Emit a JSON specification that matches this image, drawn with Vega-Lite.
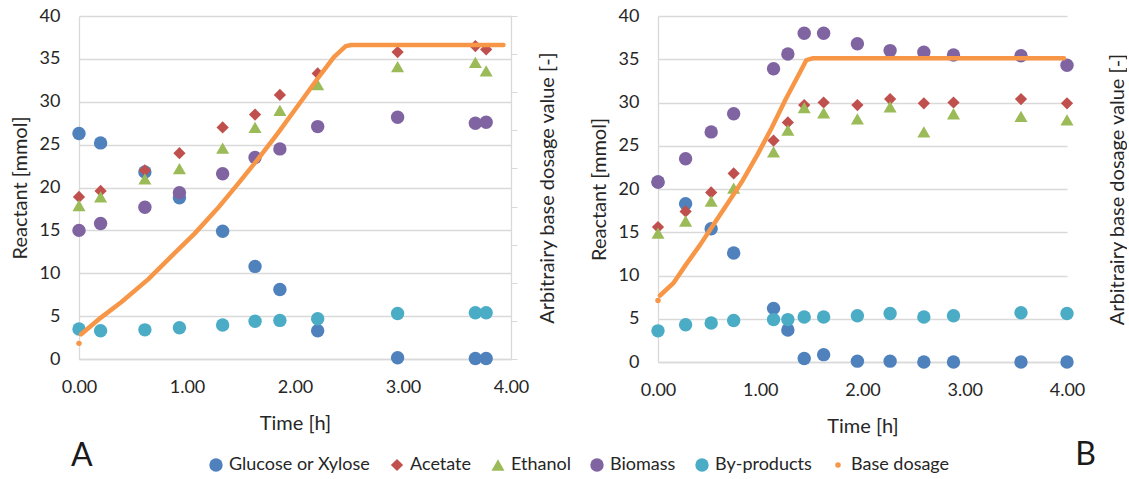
{
  "$schema": "https://vega.github.io/schema/vega-lite/v6.json",
  "padding": {"left": 10, "top": 7, "right": 0, "bottom": 0},
  "background": "white",
  "config": {
    "font": "Lato",
    "view": {"stroke": null},
    "axis": {
      "labelFont": "Lato", "titleFont": "Lato",
      "labelFontSize": 18, "titleFontSize": 20, "titleFontWeight": "normal",
      "labelColor": "#262626", "titleColor": "#262626",
      "domainColor": "#D9D9D9", "domainWidth": 1.3,
      "gridColor": "#D9D9D9", "gridWidth": 1.3, "tickColor": "#D9D9D9",
      "labelFlush": false
    },
    "title": {"font": "Lato", "fontSize": 32, "fontWeight": "normal", "color": "#1a1a1a"}
  },
  "datasets": {
    "reactants": [
      {"panel": "A", "series": "Glucose or Xylose", "time": 0, "value": 26.3},
      {"panel": "A", "series": "Glucose or Xylose", "time": 0.2, "value": 25.2},
      {"panel": "A", "series": "Glucose or Xylose", "time": 0.61, "value": 21.8},
      {"panel": "A", "series": "Glucose or Xylose", "time": 0.93, "value": 18.8},
      {"panel": "A", "series": "Glucose or Xylose", "time": 1.33, "value": 14.9},
      {"panel": "A", "series": "Glucose or Xylose", "time": 1.63, "value": 10.8},
      {"panel": "A", "series": "Glucose or Xylose", "time": 1.86, "value": 8.1},
      {"panel": "A", "series": "Glucose or Xylose", "time": 2.21, "value": 3.3},
      {"panel": "A", "series": "Glucose or Xylose", "time": 2.95, "value": 0.15},
      {"panel": "A", "series": "Glucose or Xylose", "time": 3.67, "value": 0.05},
      {"panel": "A", "series": "Glucose or Xylose", "time": 3.77, "value": 0.05},
      {"panel": "A", "series": "Acetate", "time": 0, "value": 18.9},
      {"panel": "A", "series": "Acetate", "time": 0.2, "value": 19.6},
      {"panel": "A", "series": "Acetate", "time": 0.61, "value": 22.0},
      {"panel": "A", "series": "Acetate", "time": 0.93, "value": 24.0},
      {"panel": "A", "series": "Acetate", "time": 1.33, "value": 27.0},
      {"panel": "A", "series": "Acetate", "time": 1.63, "value": 28.5},
      {"panel": "A", "series": "Acetate", "time": 1.86, "value": 30.8},
      {"panel": "A", "series": "Acetate", "time": 2.21, "value": 33.3},
      {"panel": "A", "series": "Acetate", "time": 2.95, "value": 35.8},
      {"panel": "A", "series": "Acetate", "time": 3.67, "value": 36.5},
      {"panel": "A", "series": "Acetate", "time": 3.77, "value": 36.1},
      {"panel": "A", "series": "Ethanol", "time": 0, "value": 17.9},
      {"panel": "A", "series": "Ethanol", "time": 0.2, "value": 18.9},
      {"panel": "A", "series": "Ethanol", "time": 0.61, "value": 21.0},
      {"panel": "A", "series": "Ethanol", "time": 0.93, "value": 22.2},
      {"panel": "A", "series": "Ethanol", "time": 1.33, "value": 24.6},
      {"panel": "A", "series": "Ethanol", "time": 1.63, "value": 27.0},
      {"panel": "A", "series": "Ethanol", "time": 1.86, "value": 29.0},
      {"panel": "A", "series": "Ethanol", "time": 2.21, "value": 32.0},
      {"panel": "A", "series": "Ethanol", "time": 2.95, "value": 34.1},
      {"panel": "A", "series": "Ethanol", "time": 3.67, "value": 34.6},
      {"panel": "A", "series": "Ethanol", "time": 3.77, "value": 33.6},
      {"panel": "A", "series": "Biomass", "time": 0, "value": 15.0},
      {"panel": "A", "series": "Biomass", "time": 0.2, "value": 15.8},
      {"panel": "A", "series": "Biomass", "time": 0.61, "value": 17.7},
      {"panel": "A", "series": "Biomass", "time": 0.93, "value": 19.4},
      {"panel": "A", "series": "Biomass", "time": 1.33, "value": 21.6},
      {"panel": "A", "series": "Biomass", "time": 1.63, "value": 23.5},
      {"panel": "A", "series": "Biomass", "time": 1.86, "value": 24.5},
      {"panel": "A", "series": "Biomass", "time": 2.21, "value": 27.1},
      {"panel": "A", "series": "Biomass", "time": 2.95, "value": 28.2},
      {"panel": "A", "series": "Biomass", "time": 3.67, "value": 27.5},
      {"panel": "A", "series": "Biomass", "time": 3.77, "value": 27.6},
      {"panel": "A", "series": "By-products", "time": 0, "value": 3.5},
      {"panel": "A", "series": "By-products", "time": 0.2, "value": 3.3},
      {"panel": "A", "series": "By-products", "time": 0.61, "value": 3.4},
      {"panel": "A", "series": "By-products", "time": 0.93, "value": 3.65},
      {"panel": "A", "series": "By-products", "time": 1.33, "value": 3.96},
      {"panel": "A", "series": "By-products", "time": 1.63, "value": 4.4},
      {"panel": "A", "series": "By-products", "time": 1.86, "value": 4.5},
      {"panel": "A", "series": "By-products", "time": 2.21, "value": 4.7},
      {"panel": "A", "series": "By-products", "time": 2.95, "value": 5.3},
      {"panel": "A", "series": "By-products", "time": 3.67, "value": 5.4},
      {"panel": "A", "series": "By-products", "time": 3.77, "value": 5.4},
      {"panel": "B", "series": "Glucose or Xylose", "time": 0, "value": 20.8},
      {"panel": "B", "series": "Glucose or Xylose", "time": 0.27, "value": 18.3},
      {"panel": "B", "series": "Glucose or Xylose", "time": 0.52, "value": 15.4},
      {"panel": "B", "series": "Glucose or Xylose", "time": 0.74, "value": 12.6},
      {"panel": "B", "series": "Glucose or Xylose", "time": 1.13, "value": 6.2},
      {"panel": "B", "series": "Glucose or Xylose", "time": 1.27, "value": 3.7},
      {"panel": "B", "series": "Glucose or Xylose", "time": 1.43, "value": 0.4},
      {"panel": "B", "series": "Glucose or Xylose", "time": 1.62, "value": 0.85},
      {"panel": "B", "series": "Glucose or Xylose", "time": 1.95, "value": 0.1},
      {"panel": "B", "series": "Glucose or Xylose", "time": 2.27, "value": 0.1},
      {"panel": "B", "series": "Glucose or Xylose", "time": 2.6, "value": 0.0},
      {"panel": "B", "series": "Glucose or Xylose", "time": 2.89, "value": 0.0},
      {"panel": "B", "series": "Glucose or Xylose", "time": 3.55, "value": 0.0},
      {"panel": "B", "series": "Glucose or Xylose", "time": 4.0, "value": 0.0},
      {"panel": "B", "series": "Acetate", "time": 0, "value": 15.6},
      {"panel": "B", "series": "Acetate", "time": 0.27, "value": 17.4},
      {"panel": "B", "series": "Acetate", "time": 0.52, "value": 19.6},
      {"panel": "B", "series": "Acetate", "time": 0.74, "value": 21.8},
      {"panel": "B", "series": "Acetate", "time": 1.13, "value": 25.6},
      {"panel": "B", "series": "Acetate", "time": 1.27, "value": 27.7},
      {"panel": "B", "series": "Acetate", "time": 1.43, "value": 29.7},
      {"panel": "B", "series": "Acetate", "time": 1.62, "value": 30.0},
      {"panel": "B", "series": "Acetate", "time": 1.95, "value": 29.7},
      {"panel": "B", "series": "Acetate", "time": 2.27, "value": 30.4},
      {"panel": "B", "series": "Acetate", "time": 2.6, "value": 29.9},
      {"panel": "B", "series": "Acetate", "time": 2.89, "value": 30.0},
      {"panel": "B", "series": "Acetate", "time": 3.55, "value": 30.4},
      {"panel": "B", "series": "Acetate", "time": 4.0, "value": 29.9},
      {"panel": "B", "series": "Ethanol", "time": 0, "value": 14.9},
      {"panel": "B", "series": "Ethanol", "time": 0.27, "value": 16.3},
      {"panel": "B", "series": "Ethanol", "time": 0.52, "value": 18.6},
      {"panel": "B", "series": "Ethanol", "time": 0.74, "value": 20.1},
      {"panel": "B", "series": "Ethanol", "time": 1.13, "value": 24.3},
      {"panel": "B", "series": "Ethanol", "time": 1.27, "value": 26.8},
      {"panel": "B", "series": "Ethanol", "time": 1.43, "value": 29.4},
      {"panel": "B", "series": "Ethanol", "time": 1.62, "value": 28.8},
      {"panel": "B", "series": "Ethanol", "time": 1.95, "value": 28.1},
      {"panel": "B", "series": "Ethanol", "time": 2.27, "value": 29.5},
      {"panel": "B", "series": "Ethanol", "time": 2.6, "value": 26.6},
      {"panel": "B", "series": "Ethanol", "time": 2.89, "value": 28.7},
      {"panel": "B", "series": "Ethanol", "time": 3.55, "value": 28.4},
      {"panel": "B", "series": "Ethanol", "time": 4.0, "value": 28.0},
      {"panel": "B", "series": "Biomass", "time": 0, "value": 20.8},
      {"panel": "B", "series": "Biomass", "time": 0.27, "value": 23.5},
      {"panel": "B", "series": "Biomass", "time": 0.52, "value": 26.6},
      {"panel": "B", "series": "Biomass", "time": 0.74, "value": 28.7},
      {"panel": "B", "series": "Biomass", "time": 1.13, "value": 33.9},
      {"panel": "B", "series": "Biomass", "time": 1.27, "value": 35.6},
      {"panel": "B", "series": "Biomass", "time": 1.43, "value": 38.0},
      {"panel": "B", "series": "Biomass", "time": 1.62, "value": 38.0},
      {"panel": "B", "series": "Biomass", "time": 1.95, "value": 36.8},
      {"panel": "B", "series": "Biomass", "time": 2.27, "value": 36.0},
      {"panel": "B", "series": "Biomass", "time": 2.6, "value": 35.8},
      {"panel": "B", "series": "Biomass", "time": 2.89, "value": 35.5},
      {"panel": "B", "series": "Biomass", "time": 3.55, "value": 35.4},
      {"panel": "B", "series": "Biomass", "time": 4.0, "value": 34.3},
      {"panel": "B", "series": "By-products", "time": 0, "value": 3.6},
      {"panel": "B", "series": "By-products", "time": 0.27, "value": 4.3},
      {"panel": "B", "series": "By-products", "time": 0.52, "value": 4.5},
      {"panel": "B", "series": "By-products", "time": 0.74, "value": 4.8},
      {"panel": "B", "series": "By-products", "time": 1.13, "value": 4.9},
      {"panel": "B", "series": "By-products", "time": 1.27, "value": 4.9},
      {"panel": "B", "series": "By-products", "time": 1.43, "value": 5.2},
      {"panel": "B", "series": "By-products", "time": 1.62, "value": 5.2},
      {"panel": "B", "series": "By-products", "time": 1.95, "value": 5.35},
      {"panel": "B", "series": "By-products", "time": 2.27, "value": 5.6},
      {"panel": "B", "series": "By-products", "time": 2.6, "value": 5.2},
      {"panel": "B", "series": "By-products", "time": 2.89, "value": 5.35},
      {"panel": "B", "series": "By-products", "time": 3.55, "value": 5.7},
      {"panel": "B", "series": "By-products", "time": 4.0, "value": 5.6}
    ],
    "dosage": [
      {"panel": "A", "series": "Base dosage", "kind": "start", "time": 0, "value": 0.41},
      {"panel": "A", "series": "Base dosage", "kind": "curve", "time": 0.02, "value": 0.65},
      {"panel": "A", "series": "Base dosage", "kind": "curve", "time": 0.2, "value": 1.08},
      {"panel": "A", "series": "Base dosage", "kind": "curve", "time": 0.39, "value": 1.49},
      {"panel": "A", "series": "Base dosage", "kind": "curve", "time": 0.64, "value": 2.09},
      {"panel": "A", "series": "Base dosage", "kind": "curve", "time": 0.85, "value": 2.68},
      {"panel": "A", "series": "Base dosage", "kind": "curve", "time": 1.07, "value": 3.29},
      {"panel": "A", "series": "Base dosage", "kind": "curve", "time": 1.28, "value": 3.94},
      {"panel": "A", "series": "Base dosage", "kind": "curve", "time": 1.47, "value": 4.59},
      {"panel": "A", "series": "Base dosage", "kind": "curve", "time": 1.65, "value": 5.22},
      {"panel": "A", "series": "Base dosage", "kind": "curve", "time": 1.84, "value": 5.92},
      {"panel": "A", "series": "Base dosage", "kind": "curve", "time": 2.02, "value": 6.62},
      {"panel": "A", "series": "Base dosage", "kind": "curve", "time": 2.21, "value": 7.36},
      {"panel": "A", "series": "Base dosage", "kind": "curve", "time": 2.36, "value": 7.92},
      {"panel": "A", "series": "Base dosage", "kind": "curve", "time": 2.47, "value": 8.21},
      {"panel": "A", "series": "Base dosage", "kind": "curve", "time": 2.52, "value": 8.24},
      {"panel": "A", "series": "Base dosage", "kind": "curve", "time": 3.93, "value": 8.24},
      {"panel": "B", "series": "Base dosage", "kind": "start", "time": 0, "value": 1.6},
      {"panel": "B", "series": "Base dosage", "kind": "curve", "time": 0.02, "value": 1.73},
      {"panel": "B", "series": "Base dosage", "kind": "curve", "time": 0.15, "value": 2.05},
      {"panel": "B", "series": "Base dosage", "kind": "curve", "time": 0.27, "value": 2.52},
      {"panel": "B", "series": "Base dosage", "kind": "curve", "time": 0.41, "value": 3.04},
      {"panel": "B", "series": "Base dosage", "kind": "curve", "time": 0.55, "value": 3.6},
      {"panel": "B", "series": "Base dosage", "kind": "curve", "time": 0.69, "value": 4.16},
      {"panel": "B", "series": "Base dosage", "kind": "curve", "time": 0.83, "value": 4.73},
      {"panel": "B", "series": "Base dosage", "kind": "curve", "time": 0.97, "value": 5.38},
      {"panel": "B", "series": "Base dosage", "kind": "curve", "time": 1.11, "value": 6.08},
      {"panel": "B", "series": "Base dosage", "kind": "curve", "time": 1.25, "value": 6.84},
      {"panel": "B", "series": "Base dosage", "kind": "curve", "time": 1.38, "value": 7.49},
      {"panel": "B", "series": "Base dosage", "kind": "curve", "time": 1.45, "value": 7.85},
      {"panel": "B", "series": "Base dosage", "kind": "curve", "time": 1.51, "value": 7.9},
      {"panel": "B", "series": "Base dosage", "kind": "curve", "time": 3.97, "value": 7.9}
    ]
  },
  "hconcat": [
    {
      "width": 432,
      "height": 343,
      "title": {"text": "A", "orient": "bottom", "anchor": "start", "frame": "group", "dx": -8, "offset": 8},
      "layer": [
        {
          "data": {"name": "reactants"},
          "transform": [{"filter": "datum.panel === 'A'"}],
          "mark": {"type": "point", "filled": true, "opacity": 1},
          "encoding": {
            "x": {"field": "time", "type": "quantitative", "scale": {"domain": [0, 4], "nice": false},
                  "axis": {"title": "Time [h]", "values": [0, 1, 2, 3, 4], "format": ".2f", "grid": false, "ticks": false, "tickSize": 0, "labelPadding": 19, "titlePadding": 17}},
            "y": {"field": "value", "type": "quantitative", "scale": {"domain": [0, 40], "nice": false},
                  "axis": {"orient": "left", "title": "Reactant [mmol]", "values": [0, 5, 10, 15, 20, 25, 30, 35, 40], "format": "d", "grid": true, "ticks": false, "tickSize": 0, "labelPadding": 19, "titlePadding": 9}},
            "color": {"field": "series", "type": "nominal",
                      "scale": {"domain": ["Glucose or Xylose", "Acetate", "Ethanol", "Biomass", "By-products", "Base dosage"], "range": ["#4F81BD", "#C0504D", "#9BBB59", "#8064A2", "#4BACC6", "#F79646"]},
                      "legend": {"title": null, "orient": "none", "legendX": 128, "legendY": 440, "direction": "horizontal", "columns": 6, "labelFont": "Lato", "labelFontSize": 18, "labelColor": "#262626", "columnPadding": 17, "labelOffset": 4, "symbolStrokeWidth": 0, "padding": 0}},
            "shape": {"field": "series", "type": "nominal",
                      "scale": {"domain": ["Glucose or Xylose", "Acetate", "Ethanol", "Biomass", "By-products", "Base dosage"], "range": ["circle", "diamond", "triangle-up", "circle", "circle", "circle"]},
                      "legend": {"title": null, "orient": "none", "legendX": 128, "legendY": 440, "direction": "horizontal", "columns": 6, "labelFont": "Lato", "labelFontSize": 18, "labelColor": "#262626", "columnPadding": 17, "labelOffset": 4, "symbolStrokeWidth": 0, "padding": 0}},
            "size": {"field": "series", "type": "nominal",
                     "scale": {"type": "ordinal", "domain": ["Glucose or Xylose", "Acetate", "Ethanol", "Biomass", "By-products", "Base dosage"], "range": [180, 150, 170, 180, 180, 30]},
                     "legend": {"title": null, "orient": "none", "legendX": 128, "legendY": 440, "direction": "horizontal", "columns": 6, "labelFont": "Lato", "labelFontSize": 18, "labelColor": "#262626", "columnPadding": 17, "labelOffset": 4, "symbolStrokeWidth": 0, "padding": 0}}
          }
        },
        {
          "data": {"name": "dosage"},
          "transform": [{"filter": "datum.panel === 'A'"}],
          "layer": [
            {
              "transform": [{"filter": "datum.kind === 'curve'"}],
              "mark": {"type": "line", "color": "#F79646", "strokeWidth": 4.5, "strokeCap": "round", "strokeJoin": "round"},
              "encoding": {
                "x": {"field": "time", "type": "quantitative", "scale": {"domain": [0, 4], "nice": false},
                      "axis": {"title": "Time [h]", "values": [0, 1, 2, 3, 4], "format": ".2f", "grid": false, "ticks": false, "tickSize": 0, "labelPadding": 19, "titlePadding": 17}},
                "y": {"field": "value", "type": "quantitative", "scale": {"domain": [0, 9], "nice": false},
                      "axis": {"orient": "right", "title": "Arbitrairy base dosage value [-]", "values": [0, 1, 2, 3, 4, 5, 6, 7, 8, 9], "labels": false, "grid": false, "ticks": true, "tickSize": 6, "domain": true, "titleAngle": 270, "titleBaseline": "top", "titlePadding": 20}}
              }
            },
            {
              "transform": [{"filter": "datum.kind === 'start'"}],
              "mark": {"type": "point", "filled": true, "opacity": 1},
              "encoding": {
                "x": {"field": "time", "type": "quantitative", "scale": {"domain": [0, 4], "nice": false},
                      "axis": {"title": "Time [h]", "values": [0, 1, 2, 3, 4], "format": ".2f", "grid": false, "ticks": false, "tickSize": 0, "labelPadding": 19, "titlePadding": 17}},
                "y": {"field": "value", "type": "quantitative", "scale": {"domain": [0, 9], "nice": false},
                      "axis": {"orient": "right", "title": "Arbitrairy base dosage value [-]", "values": [0, 1, 2, 3, 4, 5, 6, 7, 8, 9], "labels": false, "grid": false, "ticks": true, "tickSize": 6, "domain": true, "titleAngle": 270, "titleBaseline": "top", "titlePadding": 20}},
                "color": {"field": "series", "type": "nominal",
                          "scale": {"domain": ["Glucose or Xylose", "Acetate", "Ethanol", "Biomass", "By-products", "Base dosage"], "range": ["#4F81BD", "#C0504D", "#9BBB59", "#8064A2", "#4BACC6", "#F79646"]},
                          "legend": {"title": null, "orient": "none", "legendX": 128, "legendY": 440, "direction": "horizontal", "columns": 6, "labelFont": "Lato", "labelFontSize": 18, "labelColor": "#262626", "columnPadding": 17, "labelOffset": 4, "symbolStrokeWidth": 0, "padding": 0}},
                "shape": {"field": "series", "type": "nominal",
                          "scale": {"domain": ["Glucose or Xylose", "Acetate", "Ethanol", "Biomass", "By-products", "Base dosage"], "range": ["circle", "diamond", "triangle-up", "circle", "circle", "circle"]},
                          "legend": {"title": null, "orient": "none", "legendX": 128, "legendY": 440, "direction": "horizontal", "columns": 6, "labelFont": "Lato", "labelFontSize": 18, "labelColor": "#262626", "columnPadding": 17, "labelOffset": 4, "symbolStrokeWidth": 0, "padding": 0}},
                "size": {"field": "series", "type": "nominal",
                         "scale": {"type": "ordinal", "domain": ["Glucose or Xylose", "Acetate", "Ethanol", "Biomass", "By-products", "Base dosage"], "range": [180, 150, 170, 180, 180, 30]},
                         "legend": {"title": null, "orient": "none", "legendX": 128, "legendY": 440, "direction": "horizontal", "columns": 6, "labelFont": "Lato", "labelFontSize": 18, "labelColor": "#262626", "columnPadding": 17, "labelOffset": 4, "symbolStrokeWidth": 0, "padding": 0}}
              }
            }
          ]
        }
      ],
      "resolve": {"scale": {"y": "independent"}}
    },
    {
      "width": 409,
      "height": 346,
      "title": {"text": "B", "orient": "bottom", "anchor": "end", "frame": "group", "dx": 29, "offset": 4},
      "layer": [
        {
          "data": {"name": "reactants"},
          "transform": [{"filter": "datum.panel === 'B'"}],
          "mark": {"type": "point", "filled": true, "opacity": 1},
          "encoding": {
            "x": {"field": "time", "type": "quantitative", "scale": {"domain": [0, 4], "nice": false},
                  "axis": {"title": "Time [h]", "values": [0, 1, 2, 3, 4], "format": ".2f", "grid": false, "ticks": false, "tickSize": 0, "labelPadding": 19, "titlePadding": 17}},
            "y": {"field": "value", "type": "quantitative", "scale": {"domain": [0, 40], "nice": false},
                  "axis": {"orient": "left", "title": "Reactant [mmol]", "values": [0, 5, 10, 15, 20, 25, 30, 35, 40], "format": "d", "grid": true, "ticks": false, "tickSize": 0, "labelPadding": 19, "titlePadding": 9}},
            "color": {"field": "series", "type": "nominal",
                      "scale": {"domain": ["Glucose or Xylose", "Acetate", "Ethanol", "Biomass", "By-products", "Base dosage"], "range": ["#4F81BD", "#C0504D", "#9BBB59", "#8064A2", "#4BACC6", "#F79646"]},
                      "legend": {"title": null, "orient": "none", "legendX": 128, "legendY": 440, "direction": "horizontal", "columns": 6, "labelFont": "Lato", "labelFontSize": 18, "labelColor": "#262626", "columnPadding": 17, "labelOffset": 4, "symbolStrokeWidth": 0, "padding": 0}},
            "shape": {"field": "series", "type": "nominal",
                      "scale": {"domain": ["Glucose or Xylose", "Acetate", "Ethanol", "Biomass", "By-products", "Base dosage"], "range": ["circle", "diamond", "triangle-up", "circle", "circle", "circle"]},
                      "legend": {"title": null, "orient": "none", "legendX": 128, "legendY": 440, "direction": "horizontal", "columns": 6, "labelFont": "Lato", "labelFontSize": 18, "labelColor": "#262626", "columnPadding": 17, "labelOffset": 4, "symbolStrokeWidth": 0, "padding": 0}},
            "size": {"field": "series", "type": "nominal",
                     "scale": {"type": "ordinal", "domain": ["Glucose or Xylose", "Acetate", "Ethanol", "Biomass", "By-products", "Base dosage"], "range": [180, 150, 170, 180, 180, 30]},
                     "legend": {"title": null, "orient": "none", "legendX": 128, "legendY": 440, "direction": "horizontal", "columns": 6, "labelFont": "Lato", "labelFontSize": 18, "labelColor": "#262626", "columnPadding": 17, "labelOffset": 4, "symbolStrokeWidth": 0, "padding": 0}}
          }
        },
        {
          "data": {"name": "dosage"},
          "transform": [{"filter": "datum.panel === 'B'"}],
          "layer": [
            {
              "transform": [{"filter": "datum.kind === 'curve'"}],
              "mark": {"type": "line", "color": "#F79646", "strokeWidth": 4.5, "strokeCap": "round", "strokeJoin": "round"},
              "encoding": {
                "x": {"field": "time", "type": "quantitative", "scale": {"domain": [0, 4], "nice": false},
                      "axis": {"title": "Time [h]", "values": [0, 1, 2, 3, 4], "format": ".2f", "grid": false, "ticks": false, "tickSize": 0, "labelPadding": 19, "titlePadding": 17}},
                "y": {"field": "value", "type": "quantitative", "scale": {"domain": [0, 9], "nice": false},
                      "axis": {"orient": "right", "title": "Arbitrairy base dosage value [-]", "labels": false, "grid": false, "ticks": false, "tickSize": 0, "domain": false, "titleAngle": 270, "titleBaseline": "top", "titlePadding": 40}}
              }
            },
            {
              "transform": [{"filter": "datum.kind === 'start'"}],
              "mark": {"type": "point", "filled": true, "opacity": 1},
              "encoding": {
                "x": {"field": "time", "type": "quantitative", "scale": {"domain": [0, 4], "nice": false},
                      "axis": {"title": "Time [h]", "values": [0, 1, 2, 3, 4], "format": ".2f", "grid": false, "ticks": false, "tickSize": 0, "labelPadding": 19, "titlePadding": 17}},
                "y": {"field": "value", "type": "quantitative", "scale": {"domain": [0, 9], "nice": false},
                      "axis": {"orient": "right", "title": "Arbitrairy base dosage value [-]", "labels": false, "grid": false, "ticks": false, "tickSize": 0, "domain": false, "titleAngle": 270, "titleBaseline": "top", "titlePadding": 40}},
                "color": {"field": "series", "type": "nominal",
                          "scale": {"domain": ["Glucose or Xylose", "Acetate", "Ethanol", "Biomass", "By-products", "Base dosage"], "range": ["#4F81BD", "#C0504D", "#9BBB59", "#8064A2", "#4BACC6", "#F79646"]},
                          "legend": {"title": null, "orient": "none", "legendX": 128, "legendY": 440, "direction": "horizontal", "columns": 6, "labelFont": "Lato", "labelFontSize": 18, "labelColor": "#262626", "columnPadding": 17, "labelOffset": 4, "symbolStrokeWidth": 0, "padding": 0}},
                "shape": {"field": "series", "type": "nominal",
                          "scale": {"domain": ["Glucose or Xylose", "Acetate", "Ethanol", "Biomass", "By-products", "Base dosage"], "range": ["circle", "diamond", "triangle-up", "circle", "circle", "circle"]},
                          "legend": {"title": null, "orient": "none", "legendX": 128, "legendY": 440, "direction": "horizontal", "columns": 6, "labelFont": "Lato", "labelFontSize": 18, "labelColor": "#262626", "columnPadding": 17, "labelOffset": 4, "symbolStrokeWidth": 0, "padding": 0}},
                "size": {"field": "series", "type": "nominal",
                         "scale": {"type": "ordinal", "domain": ["Glucose or Xylose", "Acetate", "Ethanol", "Biomass", "By-products", "Base dosage"], "range": [180, 150, 170, 180, 180, 30]},
                         "legend": {"title": null, "orient": "none", "legendX": 128, "legendY": 440, "direction": "horizontal", "columns": 6, "labelFont": "Lato", "labelFontSize": 18, "labelColor": "#262626", "columnPadding": 17, "labelOffset": 4, "symbolStrokeWidth": 0, "padding": 0}}
              }
            }
          ]
        }
      ],
      "resolve": {"scale": {"y": "independent"}}
    }
  ],
  "spacing": 147,
  "bounds": "flush",
  "resolve": {
    "scale": {"color": "shared", "shape": "shared", "size": "shared"},
    "legend": {"color": "shared", "shape": "shared", "size": "shared"}
  }
}
